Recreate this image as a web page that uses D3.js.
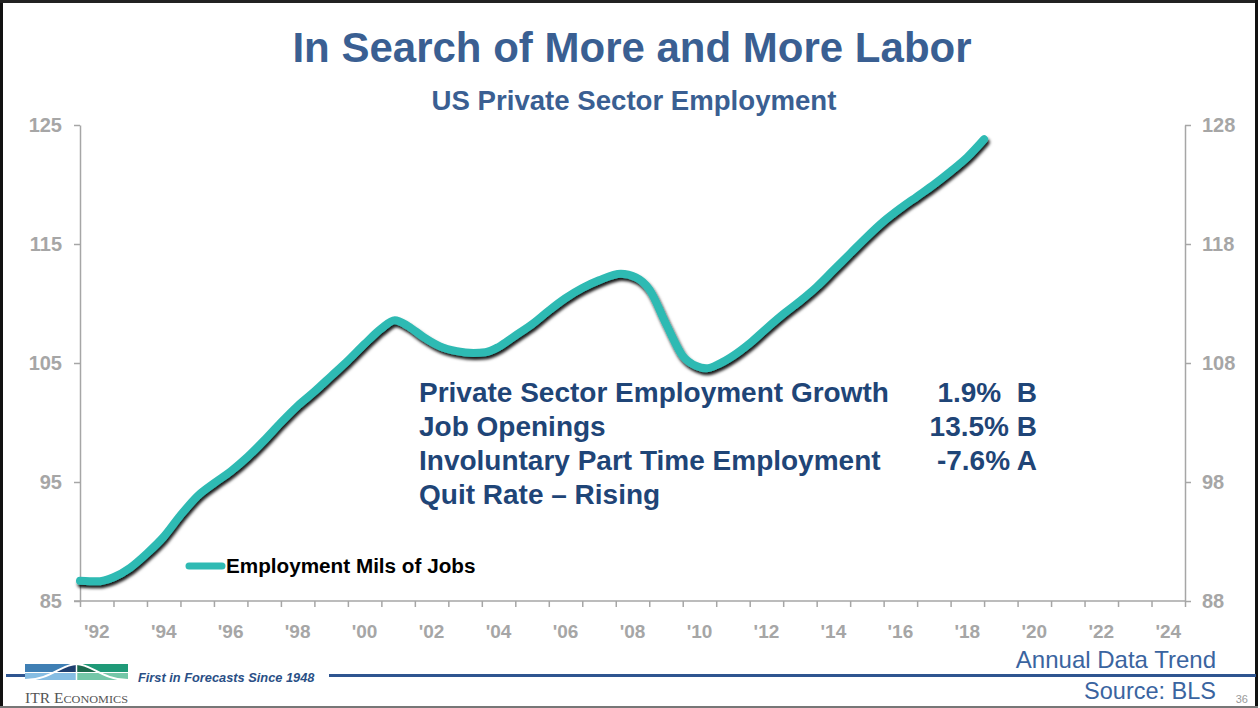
<!DOCTYPE html>
<html>
<head>
<meta charset="utf-8">
<script src="https://cdn.jsdelivr.net/npm/d3@7"></script>
<style>
  html, body { margin: 0; padding: 0; background: #fff; }
  svg { display: block; font-family: "Liberation Sans", Arial, sans-serif; }
</style>
</head>
<body>
<svg id="chart" width="1260" height="708"></svg>
<script>
// US private sector employment, 12-month moving total (millions of jobs)
const period = [
  1992.0, 1992.5, 1993.0, 1993.5, 1994.0, 1994.5, 1995.0, 1995.5, 1996.0, 1996.5,
  1997.0, 1997.5, 1998.0, 1998.5, 1999.0, 1999.5, 2000.0, 2000.5, 2001.0, 2001.4,
  2001.8, 2002.25, 2002.75, 2003.25, 2003.75, 2004.1, 2004.5, 2005.0, 2005.5, 2006.0,
  2006.5, 2007.0, 2007.5, 2008.15, 2008.6, 2009.0, 2009.5, 2010.0, 2010.4, 2010.7,
  2011.1, 2011.5, 2012.0, 2012.5, 2013.0, 2013.5, 2014.0, 2014.5, 2015.0, 2015.5,
  2016.0, 2016.5, 2017.0, 2017.5, 2018.0, 2018.5, 2019.0
];
const employment = [
  86.7, 86.65, 87.0, 87.8, 89.0, 90.4, 92.2, 93.8, 94.9, 95.9,
  97.1, 98.5, 100.0, 101.4, 102.6, 103.9, 105.2, 106.6, 107.9, 108.6,
  108.1, 107.2, 106.4, 106.0, 105.85, 105.9, 106.35, 107.3, 108.25, 109.4,
  110.45, 111.3, 111.95, 112.5, 112.2, 111.2, 108.3, 105.6, 104.75, 104.55,
  104.95, 105.6, 106.65, 107.9, 109.1, 110.2, 111.4, 112.8, 114.2, 115.6,
  116.9, 118.0, 119.0, 120.0, 121.1, 122.3, 123.8
];

const yearTicks = d3.range(1992, 2026);            // band edges, one per year
const yearLabels = d3.range(1992, 2025, 2);        // labelled years
const leftTicks = [85, 95, 105, 115, 125];
const rightTicks = [88, 98, 108, 118, 128];

const title = "In Search of More and More Labor";
const subtitle = "US Private Sector Employment";
const legendLabel = "Employment Mils of Jobs";
const notes = [
  ["Private Sector Employment Growth", "1.9%\u00a0\u00a0B"],
  ["Job Openings", "13.5% B"],
  ["Involuntary Part Time Employment", "-7.6% A"],
  ["Quit Rate \u2013 Rising", ""]
];

const svg = d3.select("#chart");
const axisGray = "#a6a6a6";
const titleBlue = "#3a5f92";
const noteNavy = "#1f4577";
const lineTeal = "#2fbab3";

const plot = { left: 80, right: 1185, top: 125, bottom: 601 };

const x = d3.scaleLinear().domain([1992, 2025]).range([plot.left, plot.right]);
const yL = d3.scaleLinear().domain([85, 125]).range([plot.bottom, plot.top]);
const yR = d3.scaleLinear().domain([88, 128]).range([plot.bottom, plot.top]);

// frame
svg.append("rect").attr("x", 0).attr("y", 0).attr("width", 1260).attr("height", 708).attr("fill", "#fff");
svg.append("line").attr("x1", 1.5).attr("x2", 1.5).attr("y1", 0).attr("y2", 708).attr("stroke", "#111").attr("stroke-width", 3);
svg.append("line").attr("x1", 0).attr("x2", 1258).attr("y1", 1.5).attr("y2", 1.5).attr("stroke", "#222").attr("stroke-width", 3);
svg.append("line").attr("x1", 1256.5).attr("x2", 1256.5).attr("y1", 0).attr("y2", 708).attr("stroke", "#111").attr("stroke-width", 3);
svg.append("line").attr("x1", 0).attr("x2", 1258).attr("y1", 707).attr("y2", 707).attr("stroke", "#777").attr("stroke-width", 2);

// titles
svg.append("text").attr("x", 632).attr("y", 62).attr("text-anchor", "middle")
  .attr("font-size", 42).attr("font-weight", "bold").attr("fill", titleBlue).text(title);
svg.append("text").attr("x", 634).attr("y", 110).attr("text-anchor", "middle")
  .attr("font-size", 27.6).attr("font-weight", "bold").attr("fill", titleBlue).text(subtitle);

// axes
function styleAxis(g) {
  g.selectAll("path.domain").attr("stroke", axisGray).attr("stroke-width", 1.5);
  g.selectAll(".tick line").attr("stroke", axisGray).attr("stroke-width", 1.5);
  g.selectAll("text").attr("fill", axisGray).attr("font-weight", "bold")
    .attr("font-family", "'Liberation Sans', Arial, sans-serif");
}

const gL = svg.append("g").attr("transform", `translate(${plot.left},0)`)
  .call(d3.axisLeft(yL).tickValues(leftTicks).tickSize(6).tickSizeOuter(0).tickPadding(12));
styleAxis(gL);
gL.selectAll("text").attr("font-size", 20);

const gR = svg.append("g").attr("transform", `translate(${plot.right},0)`)
  .call(d3.axisRight(yR).tickValues(rightTicks).tickSize(6).tickSizeOuter(0).tickPadding(11));
styleAxis(gR);
gR.selectAll("text").attr("font-size", 20);

const gX = svg.append("g").attr("transform", `translate(0,${plot.bottom})`)
  .call(d3.axisBottom(x).tickValues(yearTicks).tickSize(6).tickSizeOuter(0).tickFormat(""));
styleAxis(gX);
gX.select("path.domain").attr("d", `M${plot.left - 6},0H${plot.right}`);

// year labels centred in each year's band
svg.append("g").selectAll("text").data(yearLabels).join("text")
  .attr("x", d => x(d + 0.5)).attr("y", 638).attr("text-anchor", "middle")
  .attr("font-size", 19).attr("font-weight", "bold").attr("fill", axisGray)
  .text(d => "'" + String(d % 100).padStart(2, "0"));

// employment line with soft drop shadow
const defs = svg.append("defs");
const f = defs.append("filter").attr("id", "shadow").attr("x", "-5%").attr("y", "-5%").attr("width", "110%").attr("height", "110%");
f.append("feDropShadow").attr("dx", 1.5).attr("dy", 3).attr("stdDeviation", 1.7)
  .attr("flood-color", "#000").attr("flood-opacity", 0.9);

const series = period.map((p, i) => ({ p, v: employment[i] }));
const line = d3.line().x(d => x(d.p)).y(d => yL(d.v)).curve(d3.curveMonotoneX);
svg.append("path").datum(series).attr("d", line)
  .attr("fill", "none").attr("stroke", lineTeal).attr("stroke-width", 8)
  .attr("stroke-linecap", "round").attr("stroke-linejoin", "round")
  .attr("filter", "url(#shadow)");

// legend
svg.append("line").attr("x1", 189).attr("x2", 222).attr("y1", 566).attr("y2", 566)
  .attr("stroke", lineTeal).attr("stroke-width", 7).attr("stroke-linecap", "round");
svg.append("text").attr("x", 226).attr("y", 573).attr("font-size", 20.7).attr("font-weight", "bold")
  .attr("fill", "#000").text(legendLabel);

// forecast notes
const ng = svg.append("g");
notes.forEach((n, i) => {
  const yy = 402 + i * 34;
  ng.append("text").attr("x", 419).attr("y", yy).attr("font-size", 28).attr("font-weight", "bold")
    .attr("fill", noteNavy).text(n[0]);
  if (n[1]) ng.append("text").attr("x", 1037).attr("y", yy).attr("text-anchor", "end")
    .attr("font-size", 28).attr("font-weight", "bold").attr("fill", noteNavy).text(n[1]);
});

// footer
const ft = svg.append("g");
ft.append("line").attr("x1", 6).attr("x2", 25).attr("y1", 675.5).attr("y2", 675.5).attr("stroke", "#2f5590").attr("stroke-width", 3);
ft.append("line").attr("x1", 329).attr("x2", 1256).attr("y1", 675.5).attr("y2", 675.5).attr("stroke", "#2f5590").attr("stroke-width", 3);

// ITR logo
const logo = ft.append("g");
const clip = defs.append("clipPath").attr("id", "logoclip");
clip.append("rect").attr("x", 25).attr("y", 664).attr("width", 103).attr("height", 16);
const lg = logo.append("g").attr("clip-path", "url(#logoclip)");
lg.append("rect").attr("x", 25).attr("y", 664).attr("width", 51).attr("height", 8).attr("fill", "#3f7fb4");
lg.append("rect").attr("x", 77).attr("y", 664).attr("width", 51).attr("height", 8).attr("fill", "#1f9a78");
lg.append("rect").attr("x", 25).attr("y", 673).attr("width", 51).attr("height", 7).attr("fill", "#86bde3");
lg.append("rect").attr("x", 77).attr("y", 673).attr("width", 51).attr("height", 7).attr("fill", "#74c7a8");
const bell = "M25,680 C50,680 62,664 76.5,664 C91,664 103,680 128,680";
// darker band beneath the bell curve, blue on the left half and green on the right
const leftClip = defs.append("clipPath").attr("id", "leftHalf");
leftClip.append("rect").attr("x", 25).attr("y", 664).attr("width", 51.5).attr("height", 8);
const rightClip = defs.append("clipPath").attr("id", "rightHalf");
rightClip.append("rect").attr("x", 76.5).attr("y", 664).attr("width", 51.5).attr("height", 8);
lg.append("path").attr("d", bell + " Z").attr("fill", "#1f3f70").attr("clip-path", "url(#leftHalf)");
lg.append("path").attr("d", bell + " Z").attr("fill", "#1c6a4e").attr("clip-path", "url(#rightHalf)");
lg.append("path").attr("d", bell).attr("fill", "none").attr("stroke", "#fff").attr("stroke-width", 2);
lg.append("line").attr("x1", 76.5).attr("x2", 76.5).attr("y1", 664).attr("y2", 680).attr("stroke", "#fff").attr("stroke-width", 1.5);
lg.append("line").attr("x1", 25).attr("x2", 128).attr("y1", 672.5).attr("y2", 672.5).attr("stroke", "#fff").attr("stroke-width", 1.2);
const itr = logo.append("text").attr("x", 25).attr("y", 703).attr("font-family", "'Liberation Serif', 'DejaVu Serif', serif")
  .attr("fill", "#555").attr("textLength", 103).attr("lengthAdjust", "spacingAndGlyphs");
itr.append("tspan").attr("font-size", 14).text("ITR E");
itr.append("tspan").attr("font-size", 11).text("CONOMICS");

ft.append("text").attr("x", 138).attr("y", 682).attr("font-size", 12.8).attr("font-weight", "bold")
  .attr("font-style", "italic").attr("fill", "#2a4f86").text("First in Forecasts Since 1948");

ft.append("text").attr("x", 1216).attr("y", 668).attr("text-anchor", "end").attr("font-size", 24)
  .attr("fill", "#3a64a0").text("Annual Data Trend");
ft.append("text").attr("x", 1216).attr("y", 699).attr("text-anchor", "end").attr("font-size", 23.5)
  .attr("fill", "#3a64a0").text("Source: BLS");
ft.append("text").attr("x", 1248).attr("y", 703).attr("text-anchor", "end").attr("font-size", 11)
  .attr("fill", "#999").text("36");
</script>
</body>
</html>
